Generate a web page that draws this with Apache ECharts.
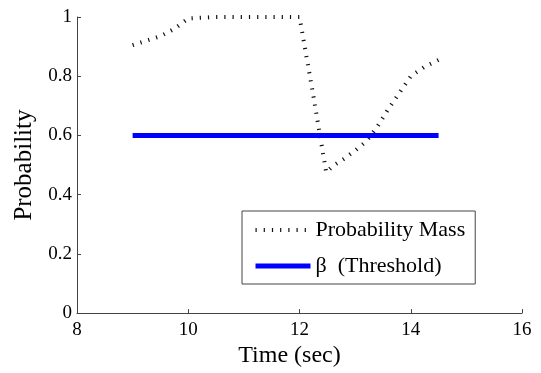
<!DOCTYPE html>
<html>
<head>
<meta charset="utf-8">
<script src="https://cdn.jsdelivr.net/npm/echarts@6/dist/echarts.min.js"></script>
<style>
  html, body { margin: 0; padding: 0; background: #fff; }
  #chart { width: 541px; height: 373px; }
</style>
</head>
<body>
<div id="chart"></div>
<script>
// probability mass over time
const massTimes = [9.0, 9.25, 9.5, 9.75, 10.0, 10.5, 11.0, 11.5, 12.0, 12.25, 12.48, 12.6, 12.8, 13.0, 13.2, 13.4, 13.6, 13.8, 14.0, 14.25, 14.5]
const massValues = [0.905, 0.92, 0.935, 0.96, 0.995, 1.0, 1.0, 1.0, 1.0, 0.733, 0.475, 0.497, 0.521, 0.549, 0.58, 0.63, 0.69, 0.745, 0.80, 0.832, 0.855]

// threshold beta
const betaTimes = [9.0, 14.5]
const betaValues = [0.6, 0.6]

const xTicks = { min: 8, max: 16, interval: 2 }
const yTicks = { min: 0, max: 1, interval: 0.2 }

const serif = 'Liberation Serif'
const dotted = { color: '#111', width: 4, type: [1.2, 7], cap: 'butt' }
const thick = { color: '#0000ff', width: 5 }

const chart = echarts.init(document.getElementById('chart'))

const option = {
  animation: false,
  backgroundColor: '#fff',
  grid: { left: 77, right: 19, top: 17, bottom: 58 },
  xAxis: {
    type: 'value',
    min: xTicks.min,
    max: xTicks.max,
    interval: xTicks.interval,
    name: 'Time (sec)',
    nameLocation: 'middle',
    nameGap: 30,
    nameTextStyle: { fontFamily: serif, fontSize: 24, color: '#000', padding: [0, 20, 0, 0] },
    axisLine: { lineStyle: { color: '#444', width: 1 } },
    axisTick: { inside: true, length: 4, lineStyle: { color: '#444' } },
    axisLabel: { fontFamily: serif, fontSize: 19, color: '#000', margin: 7 },
    splitLine: { show: false }
  },
  yAxis: {
    type: 'value',
    min: yTicks.min,
    max: yTicks.max,
    interval: yTicks.interval,
    name: 'Probability',
    nameLocation: 'middle',
    nameGap: 38,
    nameTextStyle: { fontFamily: serif, fontSize: 25, color: '#000' },
    axisLine: { show: true, lineStyle: { color: '#444', width: 1 } },
    axisTick: { show: true, inside: true, length: 4, lineStyle: { color: '#444' } },
    axisLabel: {
      fontFamily: serif, fontSize: 19, color: '#000', margin: 5,
      formatter: v => (v === 0 || v === 1) ? String(v) : v.toFixed(1)
    },
    splitLine: { show: false }
  },
  legend: {
    orient: 'vertical',
    left: 242,
    top: 211,
    padding: [8, 10, 7, 11],
    itemGap: 14,
    itemWidth: 55,
    itemHeight: 14,
    backgroundColor: '#fff',
    borderColor: '#444',
    borderWidth: 1,
    borderRadius: 0,
    itemStyle: { opacity: 0 },
    textStyle: { fontFamily: serif, fontSize: 22, color: '#000' },
    data: [
      { name: 'Probability Mass', lineStyle: dotted },
      { name: 'β  (Threshold)', lineStyle: thick }
    ]
  },
  series: [
    {
      name: 'Probability Mass',
      type: 'line',
      symbol: 'none',
      data: massTimes.map((t, i) => [t, massValues[i]]),
      lineStyle: dotted,
      itemStyle: { color: '#111' }
    },
    {
      name: 'β  (Threshold)',
      type: 'line',
      symbol: 'none',
      data: betaTimes.map((t, i) => [t, betaValues[i]]),
      lineStyle: thick,
      itemStyle: { color: '#0000ff' }
    }
  ]
}

chart.setOption(option)
</script>
</body>
</html>
